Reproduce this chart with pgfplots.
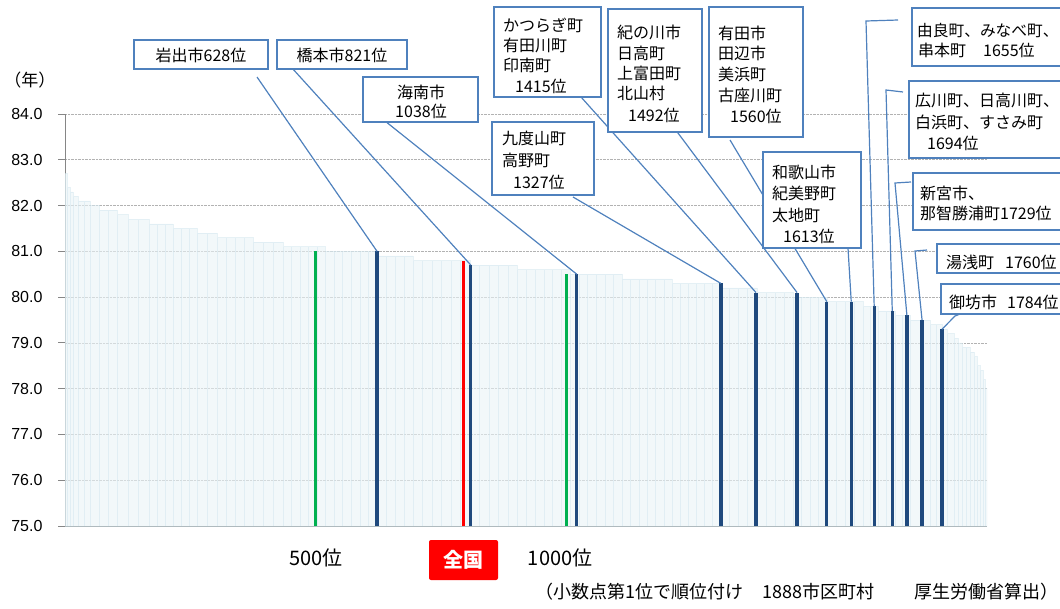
\documentclass[border=0pt]{standalone}
\usepackage{fontspec}
\setmainfont{Noto Sans CJK JP}
\newfontfamily\arial{Liberation Sans}
\usepackage{pgfplots}
\pgfplotsset{compat=1.18}
\definecolor{navyb}{HTML}{1F497D}
\definecolor{greenb}{HTML}{00B050}
\definecolor{conn}{HTML}{4F81BD}
\definecolor{lightf}{HTML}{E9F3F7}
\definecolor{lightd}{HTML}{D2E6EE}
\definecolor{axgray}{RGB}{134,134,134}
\begin{document}
\begin{tikzpicture}[x=1pt,y=1pt]
\useasboundingbox (0,0) rectangle (1060,-608);
\begin{axis}[
  at={(65pt,-526pt)}, anchor=south west,
  scale only axis, width=922pt, height=412pt,
  xmin=0, xmax=1888, ymin=75, ymax=84,
  ytick={75,76,...,84},
  xtick={514,1014}, xticklabels={500位,1000位},
  axis lines*=left,
  axis line style={draw=axgray, line width=1pt},
  ymajorgrids, grid style={densely dotted, gray!60, line width=0.8pt},
  tick align=outside, major tick length=7pt,
  ytick style={draw=axgray, line width=1pt},
  xtick style={draw=none},
  yticklabel={\pgfmathprintnumber[fixed,fixed zerofill,precision=1,assume math mode=true]{\tick}},
  yticklabel style={font=\arial\fontsize{16}{16}\selectfont, xshift=-12pt},
  xticklabel style={font=\fontsize{20}{22}\selectfont, yshift=-12pt},
]
% staircase of all municipalities (x in picture position, converted to rank)
\addplot[ybar interval, fill=lightf, draw=lightd, fill opacity=0.6, draw opacity=0.5, line width=0.6pt]
 table[x expr=(\thisrowno{0}-65)*2.04772, y index=1]{
px val
65 82.7
67 82.4
70 82.3
73 82.2
78 82.1
84 82.1
90 82.0
99 81.9
108 81.9
117 81.8
128 81.7
138 81.7
149 81.6
157 81.6
165 81.6
173 81.5
181 81.5
189 81.5
197 81.4
207 81.4
217 81.3
226 81.3
235 81.3
244 81.3
253 81.2
263 81.2
273 81.2
283 81.1
291 81.1
300 81.1
308 81.1
317 81.1
325 81.0
334 81.0
342 81.0
351 81.0
360 81.0
368 81.0
377 80.9
386 80.9
395 80.9
404 80.9
413 80.8
422 80.8
432 80.8
441 80.8
451 80.8
460 80.8
470 80.7
479 80.7
489 80.7
498 80.7
508 80.7
517 80.6
526 80.6
535 80.6
544 80.6
552 80.6
561 80.6
570 80.5
579 80.5
587 80.5
596 80.5
605 80.5
613 80.5
622 80.4
630 80.4
639 80.4
647 80.4
655 80.4
664 80.4
672 80.3
680 80.3
688 80.3
696 80.3
704 80.3
712 80.3
720 80.2
729 80.2
738 80.2
747 80.2
757 80.1
766 80.1
775 80.1
784 80.1
793 80.0
801 80.0
810 80.0
818 80.0
827 79.9
836 79.9
845 79.9
854 79.9
863 79.8
870 79.8
878 79.7
886 79.7
895 79.6
902 79.6
910 79.5
920 79.5
930 79.4
936 79.4
942 79.3
947 79.2
954 79.1
958 79.0
962 78.9
966 78.9
970 78.8
974 78.7
977 78.5
980 78.4
983 78.2
985 78.0
987 78.0
};
\addplot[ycomb, draw=greenb, line width=3pt] coordinates {(512,81.0) (1026,80.5)};
\addplot[ycomb, draw=red, line width=3pt] coordinates {(815,80.8)};
\addplot[ycomb, draw=navyb, line width=3.3pt] table{
rank val
639 81.0
831 80.7
1048 80.5
1343 80.3
1415 80.1
1499 80.1
1560 79.9
1610 79.9
1657 79.8
1694 79.7
1724 79.6
1755 79.5
1796 79.3
};
\coordinate (c628) at (axis cs:639,81.0);
\coordinate (c821) at (axis cs:831,80.7);
\coordinate (c1038) at (axis cs:1048,80.5);
\coordinate (c1327) at (axis cs:1343,80.3);
\coordinate (c1415) at (axis cs:1415,80.1);
\coordinate (c1492) at (axis cs:1499,80.1);
\coordinate (c1560) at (axis cs:1560,79.9);
\coordinate (c1613) at (axis cs:1610,79.9);
\coordinate (c1655) at (axis cs:1657,79.8);
\coordinate (c1694) at (axis cs:1694,79.7);
\coordinate (c1729) at (axis cs:1724,79.6);
\coordinate (c1760) at (axis cs:1755,79.5);
\coordinate (c1784) at (axis cs:1796,79.3);
\end{axis}
% connectors
\begin{scope}[draw=conn, line width=1.2pt]
\draw (257,-77) -- (c628);
\draw (292,-68) -- (c821);
\draw (385,-121) -- (c1038);
\draw (573,-197) -- (c1327);
\draw (581,-97) -- (c1415);
\draw (675,-129) -- (c1492);
\draw (730,-140) -- (c1560);
\draw (848,-248) -- (c1613);
\draw (898,-20) -- (866,-21) -- (c1655);
\draw (903,-92) -- (886,-90) -- (c1694);
\draw (911,-182) -- (895,-183) -- (c1729);
\draw (927,-250) -- (915,-251) -- (c1760);
\draw (960,-314) -- (955,-316) -- (c1784);
\end{scope}
% boxes
\begin{scope}[draw=conn, fill=white, line width=1.5pt]
\filldraw (134,-40) rectangle (268,-69);
\filldraw (277,-40) rectangle (407,-69);
\filldraw (363,-77) rectangle (478,-122);
\filldraw (492,-122) rectangle (594,-195);
\filldraw (494,-7) rectangle (601,-97);
\filldraw (608,-9) rectangle (702,-132);
\filldraw (709,-7) rectangle (803,-137);
\filldraw (763,-152) rectangle (861,-248);
\filldraw (912,-8) rectangle (1075,-66);
\filldraw (909,-81) rectangle (1075,-158);
\filldraw (913,-173) rectangle (1075,-230);
\filldraw (937,-244) rectangle (1075,-273);
\filldraw (941,-284) rectangle (1075,-314);
\end{scope}
\tikzset{lb/.style={anchor=base west, inner sep=0, font=\fontsize{16}{18}\selectfont},
         lc/.style={anchor=base, inner sep=0, font=\fontsize{16}{18}\selectfont}}
\node[lc] at (201,-61) {岩出市628位};
\node[lc] at (342,-61) {橋本市821位};
\node[lc] at (421,-98) {海南市};
\node[lc] at (421,-117) {1038位};
\node[lb] at (502,-144) {九度山町};
\node[lb] at (502,-166) {高野町};
\node[lb] at (513,-188) {1327位};
\node[lb] at (503,-31) {かつらぎ町};
\node[lb] at (503,-51) {有田川町};
\node[lb] at (503,-71) {印南町};
\node[lb] at (515,-92) {1415位};
\node[lb] at (617,-38) {紀の川市};
\node[lb] at (617,-59) {日高町};
\node[lb] at (617,-79) {上富田町};
\node[lb] at (617,-99) {北山村};
\node[lb] at (628,-121) {1492位};
\node[lb] at (718,-39) {有田市};
\node[lb] at (718,-59) {田辺市};
\node[lb] at (718,-80) {美浜町};
\node[lb] at (718,-101) {古座川町};
\node[lb] at (730,-122) {1560位};
\node[lb] at (772,-178) {和歌山市};
\node[lb] at (772,-199) {紀美野町};
\node[lb] at (772,-221) {太地町};
\node[lb] at (783,-242) {1613位};
\node[lb, font=\fontsize{15.7}{18}\selectfont] at (917,-36) {由良町、みなべ町、};
\node[lb] at (918,-56) {串本町};
\node[lb] at (983,-56) {1655位};
\node[lb] at (915,-106) {広川町、日高川町、};
\node[lb] at (915,-128) {白浜町、すさみ町};
\node[lb] at (927,-149) {1694位};
\node[lb] at (920,-199) {新宮市、};
\node[lb] at (920,-219) {那智勝浦町1729位};
\node[lb] at (946,-268) {湯浅町};
\node[lb] at (1005,-268) {1760位};
\node[lb] at (949,-308) {御坊市};
\node[lb] at (1007,-308) {1784位};
% other texts
\node[anchor=base, inner sep=0, font=\fontsize{17}{18}\selectfont] at (30,-86.5) {（年）};
\node[fill=red, text=white, font=\bfseries\fontsize{20}{22}\selectfont, minimum width=69pt, minimum height=40pt, rounded corners=2pt, inner sep=0] at (463.5,-560) {全国};
\node[anchor=base west, inner sep=0, font=\fontsize{18}{20}\selectfont] at (535,-598) {（小数点第1位で順位付け\hspace{1.1em}1888市区町村\hspace{2.2em}厚生労働省算出）};
\end{tikzpicture}
\end{document}
